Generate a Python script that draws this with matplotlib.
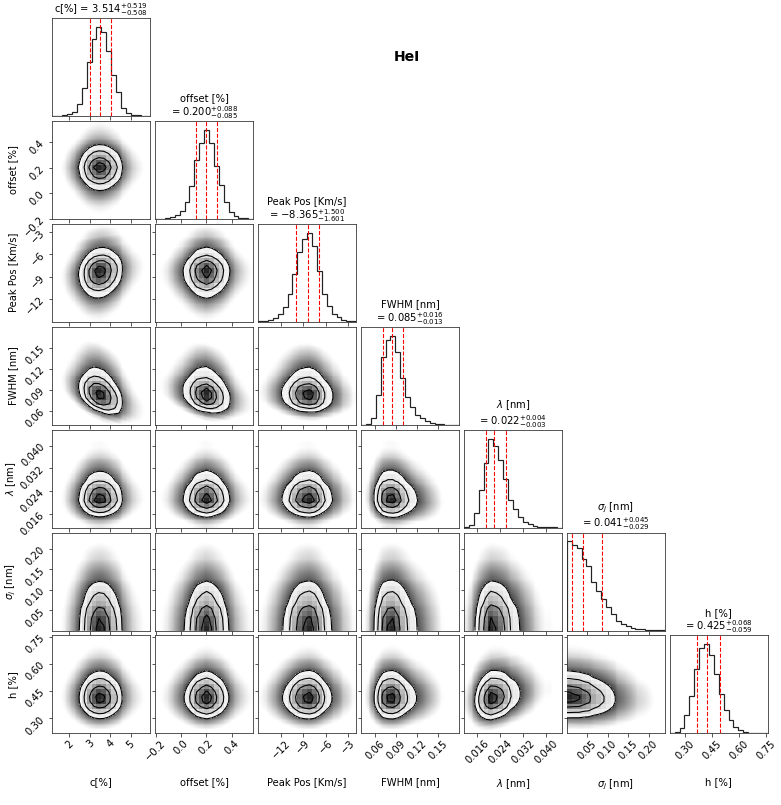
import numpy as np
import matplotlib
matplotlib.use('Agg')
import matplotlib.pyplot as plt

# Posterior summary. The individual samples can't be
# recovered from the picture, so the clouds are shaded from the read histograms
# instead of drawing made-up points.
labels = ['c[%]', 'offset [%]', 'Peak Pos [Km/s]', 'FWHM [nm]', r'$\lambda$ [nm]', r'$\sigma_j$ [nm]', 'h [%]']
medians = [3.514, 0.200, -8.365, 0.085, 0.022, 0.041, 0.425]
err_up = [0.519, 0.088, 1.500, 0.016, 0.004, 0.045, 0.068]
err_down = [0.508, 0.085, 1.601, 0.013, 0.003, 0.029, 0.059]

limits = [(1.16, 5.96), (-0.203, 0.57), (-15.1, -1.9), (0.0405, 0.1805),
          (0.01134, 0.04556), (0.0005, 0.2398), (0.2177, 0.757)]
ticks = [[2, 3, 4, 5], [-0.2, 0.0, 0.2, 0.4], [-12, -9, -6, -3], [0.06, 0.09, 0.12, 0.15],
         [0.016, 0.024, 0.032, 0.040], [0.05, 0.10, 0.15, 0.20], [0.30, 0.45, 0.60, 0.75]]
tick_fmt = ['%d', '%.1f', '%d', '%.2f', '%.3f', '%.2f', '%.2f']

# 20-bin histograms, heights
hist_c = [0.2, 0.5, 1.5, 5, 13, 36, 83, 162, 230, 267, 253, 196, 123, 71, 23, 10, 4, 2, 1, 0.5]
hist_offset = [0.5, 1, 2, 5, 12, 23, 52, 100, 178, 226, 267, 226, 159, 103, 51, 21, 8, 4, 2, 1]
hist_peak = [1, 2, 5, 10, 22, 45, 83, 142, 210, 247, 267, 227, 153, 83, 48, 22, 14, 5, 3, 1]
hist_fwhm = [0.2, 3, 21, 88, 203, 255, 267, 218, 141, 84, 53, 30, 20, 11, 6, 3, 1, 0.5, 0.2, 0.1]
hist_lambda = [2, 8, 43, 113, 195, 267, 244, 204, 147, 82, 57, 32, 17, 10, 4, 2, 1, 1, 0.5, 0.2]
hist_sigma = [267, 255, 247, 215, 193, 144, 119, 95, 70, 48, 27, 20, 13, 8, 4, 3, 2, 1, 0.5, 0.3]
hist_h = [0.5, 4, 17, 54, 111, 194, 257, 267, 234, 179, 117, 69, 41, 19, 11, 4, 2, 1, 0.5, 0.2]
hists = [hist_c, hist_offset, hist_peak, hist_fwhm, hist_lambda, hist_sigma, hist_h]

# visible tilt of the 2d contours, (row, col): slope in data units
tilts = {(2, 0): 0.35, (3, 0): -0.011, (3, 1): -0.035, (3, 2): -0.0006,
         (4, 3): -0.015, (6, 4): 2.5, (6, 5): -0.1}

n = len(labels)
W, H = 781, 805
left, top, size, step = 52.3, 18.0, 98.0, 102.9
levels = 1.0 - np.exp(-0.5 * np.array([2.0, 1.5, 1.0, 0.5]) ** 2)

plt.rcParams['font.size'] = 10
plt.rcParams['axes.edgecolor'] = '#303030'
plt.rcParams['xtick.color'] = '#303030'
plt.rcParams['ytick.color'] = '#303030'
plt.rcParams['xtick.labelcolor'] = 'black'
plt.rcParams['ytick.labelcolor'] = 'black'
plt.rcParams['xtick.major.pad'] = 1.5
plt.rcParams['ytick.major.pad'] = 2.5
fig = plt.figure(figsize=(W / 72, H / 72), dpi=72)


def density(x, y, col, row):
    edges_x = np.linspace(*limits[col], 21)
    edges_y = np.linspace(*limits[row], 21)
    cx = 0.5 * (edges_x[1:] + edges_x[:-1])
    cy = 0.5 * (edges_y[1:] + edges_y[:-1])
    tilt = tilts.get((row, col), 0.0)
    px = np.interp(x, cx, hists[col])
    py = np.interp(y - tilt * (x - medians[col]), cy, hists[row])
    return px * py


def draw_2d(ax, col, row):
    x0, x1 = limits[col]
    y0, y1 = limits[row]
    edges_x = np.linspace(x0, x1, 21)
    edges_y = np.linspace(y0, y1, 21)
    cx = 0.5 * (edges_x[1:] + edges_x[:-1])
    cy = 0.5 * (edges_y[1:] + edges_y[:-1])

    # soft cloud on a fine grid
    fx = np.linspace(x0, x1, 99)
    fy = np.linspace(y0, y1, 99)
    FX, FY = np.meshgrid(fx, fy)
    fine = density(FX, FY, col, row)
    fine = fine / fine.max()

    # 20x20 density like the binned one behind the contours
    GX, GY = np.meshgrid(cx, cy)
    grid = density(GX, GY, col, row)
    grid = grid / grid.max()
    flat = np.sort(grid.ravel())[::-1]
    cum = np.cumsum(flat) / flat.sum()
    V = np.sort([flat[np.argmin(np.abs(cum - lv))] for lv in levels])

    floor = 2e-3
    shade = np.clip(np.log(np.maximum(fine, floor) / floor) / np.log(V[0] / floor), 0, 1) ** 1.8
    ax.imshow(shade * 0.7, extent=(x0, x1, y0, y1), origin='lower', aspect='auto',
              cmap='gray_r', vmin=0, vmax=1, interpolation='nearest', zorder=1)

    # pad out to the axes so cut-off contours (sigma_j) reach the frame
    px = np.r_[x0, cx, x1]
    py = np.r_[y0, cy, y1]
    padded = np.pad(grid, 1, mode='edge')
    filled = ax.contourf(px, py, padded, levels=[V[0], padded.max() + 1], colors='white', zorder=2)
    mesh = ax.pcolormesh(edges_x, edges_y, 1.0 - 0.85 * grid ** 1.5, cmap='gray', vmin=0, vmax=1, zorder=3)
    mesh.set_clip_path(filled.get_paths()[0], transform=ax.transData)
    ax.contour(px, py, padded, levels=V, colors='k', linewidths=1.1, zorder=4)
    ax.set_xlim(x0, x1)
    ax.set_ylim(y0, y1)


for row in range(n):
    for col in range(row + 1):
        ax = fig.add_axes([(left + col * step) / W, 1 - (top + row * step + size) / H, size / W, size / H])
        if col == row:
            edges = np.linspace(*limits[col], 21)
            ax.stairs(hists[col], edges, color='#222222', linewidth=1.2)
            for q in [medians[col] - err_down[col], medians[col], medians[col] + err_up[col]]:
                ax.axvline(q, color='red', linestyle='--', linewidth=1.1)
            ax.set_xlim(*limits[col])
            ax.set_ylim(0, 1.1 * max(hists[col]))
            ax.set_yticks([])
            if col == 0:
                title = '%s = $%.3f_{-%.3f}^{+%.3f}$' % (labels[col], medians[col], err_down[col], err_up[col])
            else:
                title = '%s\n= $%.3f_{-%.3f}^{+%.3f}$' % (labels[col], medians[col], err_down[col], err_up[col])
            ax.set_title(title, fontsize=10, pad=4, linespacing=1.05)
        else:
            draw_2d(ax, col, row)
            ax.set_yticks(ticks[row])
            if col == 0:
                ax.set_yticklabels([(tick_fmt[row] % t).replace('-', '\u2212') for t in ticks[row]], rotation=45)
                ax.set_ylabel(labels[row], fontsize=10)
                ax.yaxis.set_label_coords(-0.35, 0.5)
            else:
                ax.set_yticklabels([])
        ax.set_xticks(ticks[col])
        if row == n - 1:
            ax.set_xticklabels([(tick_fmt[col] % t).replace('-', '\u2212') for t in ticks[col]], rotation=45)
            ax.set_xlabel(labels[col], fontsize=10)
            ax.xaxis.set_label_coords(0.5, -0.45)
        else:
            ax.set_xticklabels([])

fig.text(407 / W, 1 - 57 / H, 'HeI', fontsize=14, fontweight='bold', ha='center', va='center')
fig.savefig('out.png', dpi=72, facecolor='white')
